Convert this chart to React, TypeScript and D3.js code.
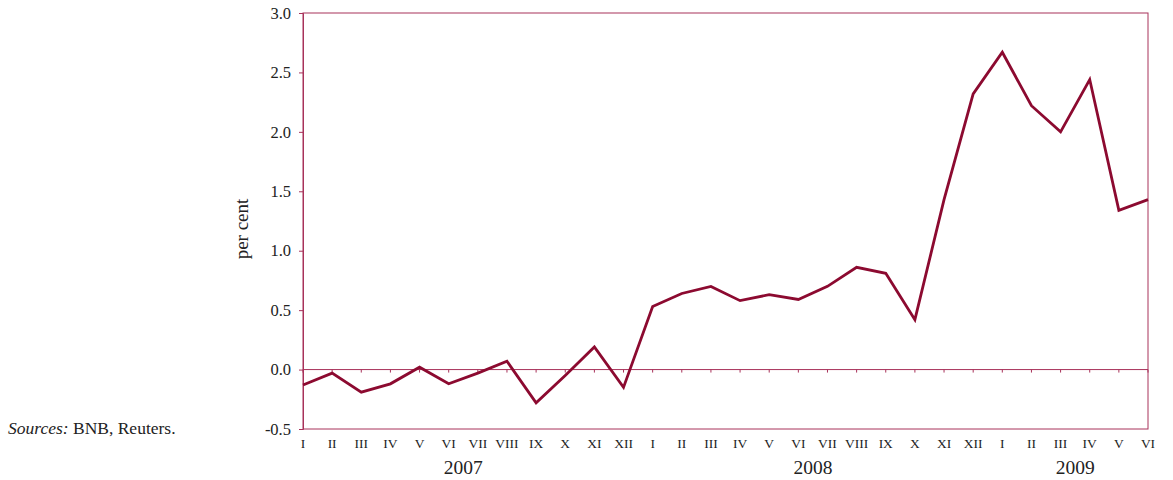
import React from 'react';
import * as d3 from 'd3';

const months = ['I', 'II', 'III', 'IV', 'V', 'VI', 'VII', 'VIII', 'IX', 'X', 'XI', 'XII',
  'I', 'II', 'III', 'IV', 'V', 'VI', 'VII', 'VIII', 'IX', 'X', 'XI', 'XII',
  'I', 'II', 'III', 'IV', 'V', 'VI'];
const years = ['2007', '2008', '2009'];
const yearSpans = [[0, 11], [12, 23], [24, 29]];
const values = [-0.13, -0.03, -0.19, -0.12, 0.02, -0.12, -0.03, 0.07, -0.28, -0.05, 0.19, -0.15,
  0.53, 0.64, 0.70, 0.58, 0.63, 0.59, 0.70, 0.86, 0.81, 0.42, 1.43, 2.32,
  2.67, 2.22, 2.00, 2.44, 1.34, 1.43];
const yTicks = [-0.5, 0, 0.5, 1, 1.5, 2, 2.5, 3];

const App = () => {
  const ref = React.useRef<SVGSVGElement>(null);

  React.useEffect(() => {
    const svg = d3.select(ref.current);
    svg.selectAll('*').remove();

    const left = 303, right = 1148, top = 13, bottom = 429;
    const font = '"Liberation Serif", "Times New Roman", serif';
    const lineColor = '#8c0a30';
    const frameColor = '#a8325a';

    const x = d3.scaleLinear().domain([0, months.length - 1]).range([left, right]);
    const y = d3.scaleLinear().domain([-0.5, 3]).range([bottom, top]);

    // frame
    svg.append('rect')
      .attr('x', left).attr('y', top)
      .attr('width', right - left).attr('height', bottom - top)
      .attr('fill', 'none').attr('stroke', frameColor).attr('stroke-width', 1);

    // y axis ticks and labels
    const yAxis = svg.append('g').attr('transform', `translate(${left},0)`)
      .call(d3.axisLeft(y).tickValues(yTicks).tickSize(4).tickPadding(8)
        .tickFormat(d => (d as number).toFixed(1)));
    yAxis.select('.domain').attr('stroke', frameColor);
    yAxis.selectAll('.tick line').attr('stroke', frameColor);
    yAxis.selectAll('.tick text')
      .style('font-family', font).style('font-size', '16.5px').attr('fill', '#222');

    // zero line with month ticks
    svg.append('line')
      .attr('x1', left).attr('x2', right)
      .attr('y1', y(0)).attr('y2', y(0))
      .attr('stroke', frameColor).attr('stroke-width', 1);
    svg.selectAll('.mtick')
      .data(months)
      .enter()
      .append('line')
      .attr('class', 'mtick')
      .attr('x1', (_, i) => x(i)).attr('x2', (_, i) => x(i))
      .attr('y1', y(0)).attr('y2', y(0) + 3)
      .attr('stroke', frameColor);

    // month labels
    svg.selectAll('.mlabel')
      .data(months)
      .enter()
      .append('text')
      .attr('class', 'mlabel')
      .attr('x', (_, i) => x(i))
      .attr('y', 448)
      .attr('text-anchor', 'middle')
      .style('font-family', font)
      .style('font-size', '13.5px')
      .attr('fill', '#222')
      .text(d => d);

    // year labels
    svg.selectAll('.ylabel')
      .data(years)
      .enter()
      .append('text')
      .attr('class', 'ylabel')
      .attr('x', (_, i) => (x(yearSpans[i][0]) + x(yearSpans[i][1])) / 2)
      .attr('y', 474)
      .attr('text-anchor', 'middle')
      .style('font-family', font)
      .style('font-size', '19.5px')
      .attr('fill', '#222')
      .text(d => d);

    // series line
    const line = d3.line<number>()
      .x((_, i) => x(i))
      .y(d => y(d));
    svg.append('path')
      .datum(values)
      .attr('d', line)
      .attr('fill', 'none')
      .attr('stroke', lineColor)
      .attr('stroke-width', 2.8)
      .attr('stroke-linejoin', 'miter');

    // y title
    svg.append('text')
      .attr('transform', `translate(248,${(top + bottom) / 2 + 8}) rotate(-90)`)
      .attr('text-anchor', 'middle')
      .style('font-family', font)
      .style('font-size', '19px')
      .attr('fill', '#222')
      .text('per cent');

    // sources note
    const note = svg.append('text')
      .attr('x', 8).attr('y', 434)
      .style('font-family', font)
      .style('font-size', '17.5px')
      .attr('fill', '#222');
    note.append('tspan').style('font-style', 'italic').text('Sources:');
    note.append('tspan').text(' BNB, Reuters.');
  }, []);

  return (
    <svg ref={ref} width={1173} height={480}
      style={{ position: 'absolute', left: 0, top: 0, background: '#fff' }} />
  );
};

export default App;
